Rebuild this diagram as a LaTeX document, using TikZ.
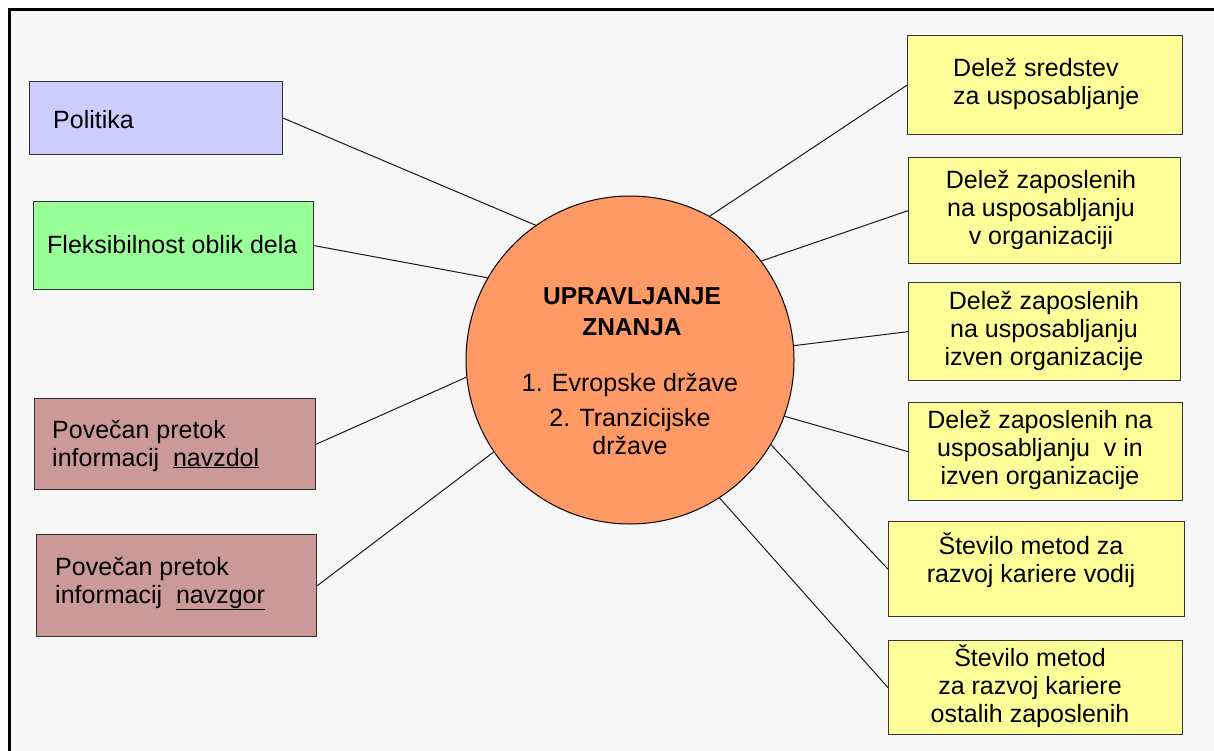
\documentclass[tikz,border=0pt]{standalone}
\usepackage{fontspec}
\setmainfont{Liberation Sans}
\definecolor{paper}{HTML}{F7F7F7}
\definecolor{lilac}{HTML}{CCCCFF}
\definecolor{mint}{HTML}{99FF99}
\definecolor{rosy}{HTML}{CC9999}
\definecolor{lemon}{HTML}{FFFF99}
\definecolor{hubfill}{HTML}{FF9966}
% several lines of text, baseline on the first line
\newcommand\txtrows[2][c]{\begin{tabular}[t]{@{}#1@{}}#2\end{tabular}}

\begin{document}
\begin{tikzpicture}[x=1pt,y=-1pt,
  box/.style={draw=black!80, line width=1.3pt, anchor=north west, inner sep=0pt},
  txt/.style={inner sep=0pt, font=\fontsize{25}{28}\selectfont},
  conn/.style={draw=black!90, line width=1pt},
]
\useasboundingbox (0,0) rectangle (1214,751);
\fill[white] (0,0) rectangle (1214,751);
\fill[paper] (11,11) rectangle (1214,751);
\fill[black] (8,8) rectangle (1214,11);
\fill[black] (8,8) rectangle (11,751);

% central circle
\node[circle, draw=black, line width=1pt, fill=hubfill, minimum size=328pt, inner sep=0pt] (hub) at (630,360) {};
\node[txt, anchor=base, font=\fontsize{24.5}{31}\selectfont\bfseries] (hubtitle) at (632,304) {\txtrows{UPRAVLJANJE\\ZNANJA}};
\node[txt, anchor=base] (hublist) at (630,391) {\txtrows{1. Evropske države\\[7pt]2. Tranzicijske\\države}};

% left boxes
\node[box, fill=lilac, minimum width=253pt, minimum height=73pt] (pol) at (29,81) {};
\node[txt, anchor=base west] (polt) at (53,129) {Politika};

\node[box, fill=mint, minimum width=280pt, minimum height=88pt] (flex) at (33,201) {};
\node[txt, anchor=base west] (flext) at (47,253) {Fleksibilnost oblik dela};

\node[box, fill=rosy, minimum width=281pt, minimum height=91pt] (dol) at (34,398) {};
\node[txt, anchor=base west] (dolt) at (52,438) {\txtrows[l]{Povečan pretok\\informacij\ \ \underline{navzdol}}};

\node[box, fill=rosy, minimum width=280pt, minimum height=102pt] (gor) at (36,534) {};
\node[txt, anchor=base west] (gort) at (55,575) {\txtrows[l]{Povečan pretok\\informacij\ \ \underline{navzgor}}};

% right boxes
\node[box, fill=lemon, minimum width=275pt, minimum height=99pt] (r1) at (907,35) {};
\node[txt, anchor=base west] (r1t) at (953,77) {\txtrows[l]{Delež sredstev\\za usposabljanje}};

\node[box, fill=lemon, minimum width=272pt, minimum height=106pt] (r2) at (908,157) {};
\node[txt, anchor=base] (r2t) at (1041,189) {\txtrows{Delež zaposlenih\\na usposabljanju\\v organizaciji}};

\node[box, fill=lemon, minimum width=272pt, minimum height=98pt] (r3) at (908,282) {};
\node[txt, anchor=base] (r3t) at (1044,309) {\txtrows{Delež zaposlenih\\na usposabljanju\\izven organizacije}};

\node[box, fill=lemon, minimum width=274pt, minimum height=98pt] (r4) at (908,402) {};
\node[txt, anchor=base] (r4t) at (1040,428) {\txtrows{Delež zaposlenih na\\usposabljanju\ \ v in\\izven organizacije}};

\node[box, fill=lemon, minimum width=296pt, minimum height=95pt] (r5) at (888,521) {};
\node[txt, anchor=base] (r5t) at (1031,554) {\txtrows{Število metod za\\razvoj kariere vodij}};

\node[box, fill=lemon, minimum width=294pt, minimum height=94pt] (r6) at (888,640) {};
\node[txt, anchor=base] (r6t) at (1030,666) {\txtrows{Število metod\\za razvoj kariere\\ostalih zaposlenih}};

% connectors
\draw[conn] (pol.east) -- (hub.125.7);
\draw[conn] (flex.east) -- (hub.150.6);
\draw[conn] (dol.east) -- (hub.186);
\draw[conn] (gor.east) -- (hub.214);
\draw[conn] (r1.west) -- (hub.61.7);
\draw[conn] (r2.west) -- (hub.37.6);
\draw[conn] (r3.west) -- (hub.5.3);
\draw[conn] (r4.west) -- (hub.340.8);
\draw[conn] (r5.west) -- (hub.329);
\draw[conn] (r6.west) -- (hub.303);
\end{tikzpicture}
\end{document}
